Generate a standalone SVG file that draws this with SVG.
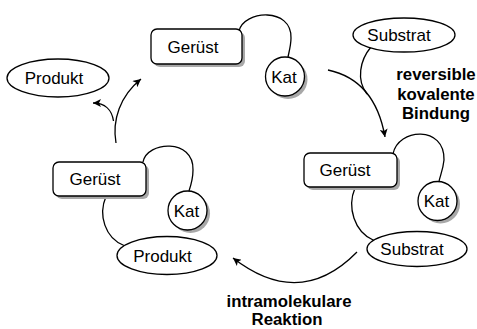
<svg xmlns="http://www.w3.org/2000/svg" width="477" height="329" viewBox="0 0 477 329">
<defs>
<style>
.shape{fill:#fff;stroke:#000;stroke-width:1.3}
.shadow{fill:#a8a8a8;stroke:none}
.line{fill:none;stroke:#000;stroke-width:1.3}
.t{font-family:"Liberation Sans",Arial,Helvetica,sans-serif;font-size:17px;text-anchor:middle;fill:#000}
.b{font-family:"Liberation Sans",Arial,Helvetica,sans-serif;font-size:16.8px;font-weight:bold;text-anchor:middle;fill:#000}
</style>
<marker id="ah" viewBox="0 0 10 10" refX="10" refY="5" markerWidth="10" markerHeight="8" markerUnits="userSpaceOnUse" orient="auto">
<path d="M0,0 L10,5 L0,10 L2.5,5 Z" fill="#000"/>
</marker>
</defs>
<rect width="477" height="329" fill="#fff"/>

<g id="connectors">
<path class="line" d="M239 31 C244 10, 292 7, 291 38 C291 45, 289 52, 288 57"/>
<path class="line" d="M393 154 C398 128, 445 125, 444 160 C443 170, 440 176, 439 181.5"/>
<path class="line" d="M143 162 C147 141, 194 138, 193 170 C193 178, 191 185, 189 191"/>
<path class="line" d="M106 196.5 C98 215, 105 238, 124 245.5"/>
<path class="line" d="M355 188 C347 207, 354 232, 374 240.5"/>
<path class="line" d="M328 70 Q375 80 385 137" marker-end="url(#ah)"/>
<path class="line" d="M371 47 C360 60, 356 80, 367 94"/>
<path class="line" d="M357 252 Q300 310 233 258" marker-end="url(#ah)"/>
<path class="line" d="M116 143 C112 120, 120 96, 141 79" marker-end="url(#ah)"/>
<path class="line" d="M113.5 121 C112 110, 105 103, 93 103" marker-end="url(#ah)"/>
</g>

<g id="top-geruest">
<rect class="shadow" x="154" y="32" width="91" height="35" rx="6"/>
<rect class="shape" x="151" y="29" width="91" height="35" rx="6"/>
<text class="t" x="193" y="52.5">Gerüst</text>
</g>
<g id="top-kat">
<circle class="shadow" cx="288" cy="79.5" r="19.5"/>
<circle class="shape" cx="285" cy="76.5" r="19.5"/>
<text class="t" x="284" y="82.5">Kat</text>
</g>
<g id="top-produkt">
<ellipse class="shape" cx="58" cy="78" rx="51" ry="19"/>
<text class="t" x="54" y="84">Produkt</text>
</g>
<g id="top-substrat">
<ellipse class="shape" cx="404" cy="35" rx="51" ry="17"/>
<text class="t" x="399" y="41">Substrat</text>
</g>

<g id="right-geruest">
<rect class="shadow" x="307" y="156" width="93" height="34" rx="6"/>
<rect class="shape" x="304" y="153" width="93" height="34" rx="6"/>
<text class="t" x="345" y="176">Gerüst</text>
</g>
<g id="right-kat">
<circle class="shadow" cx="440.5" cy="204" r="19.5"/>
<circle class="shape" cx="437.5" cy="201" r="19.5"/>
<text class="t" x="436.5" y="207">Kat</text>
</g>
<g id="right-substrat">
<ellipse class="shape" cx="417" cy="249" rx="50" ry="17.5"/>
<text class="t" x="412" y="255">Substrat</text>
</g>

<g id="left-geruest">
<rect class="shadow" x="56" y="165" width="93" height="34" rx="6"/>
<rect class="shape" x="53" y="162" width="93" height="34" rx="6"/>
<text class="t" x="95" y="185">Gerüst</text>
</g>
<g id="left-kat">
<circle class="shadow" cx="190.5" cy="213.5" r="19.5"/>
<circle class="shape" cx="187.5" cy="210.5" r="19.5"/>
<text class="t" x="186.5" y="216.5">Kat</text>
</g>
<g id="left-produkt">
<ellipse class="shape" cx="167" cy="255.5" rx="50" ry="19"/>
<text class="t" x="162.5" y="261.5">Produkt</text>
</g>

<g id="labels">
<text class="b" x="436" y="80">reversible</text>
<text class="b" x="436" y="99.5">kovalente</text>
<text class="b" x="436" y="119">Bindung</text>
<text class="b" x="289" y="306.5">intramolekulare</text>
<text class="b" x="287" y="325">Reaktion</text>
</g>
</svg>
